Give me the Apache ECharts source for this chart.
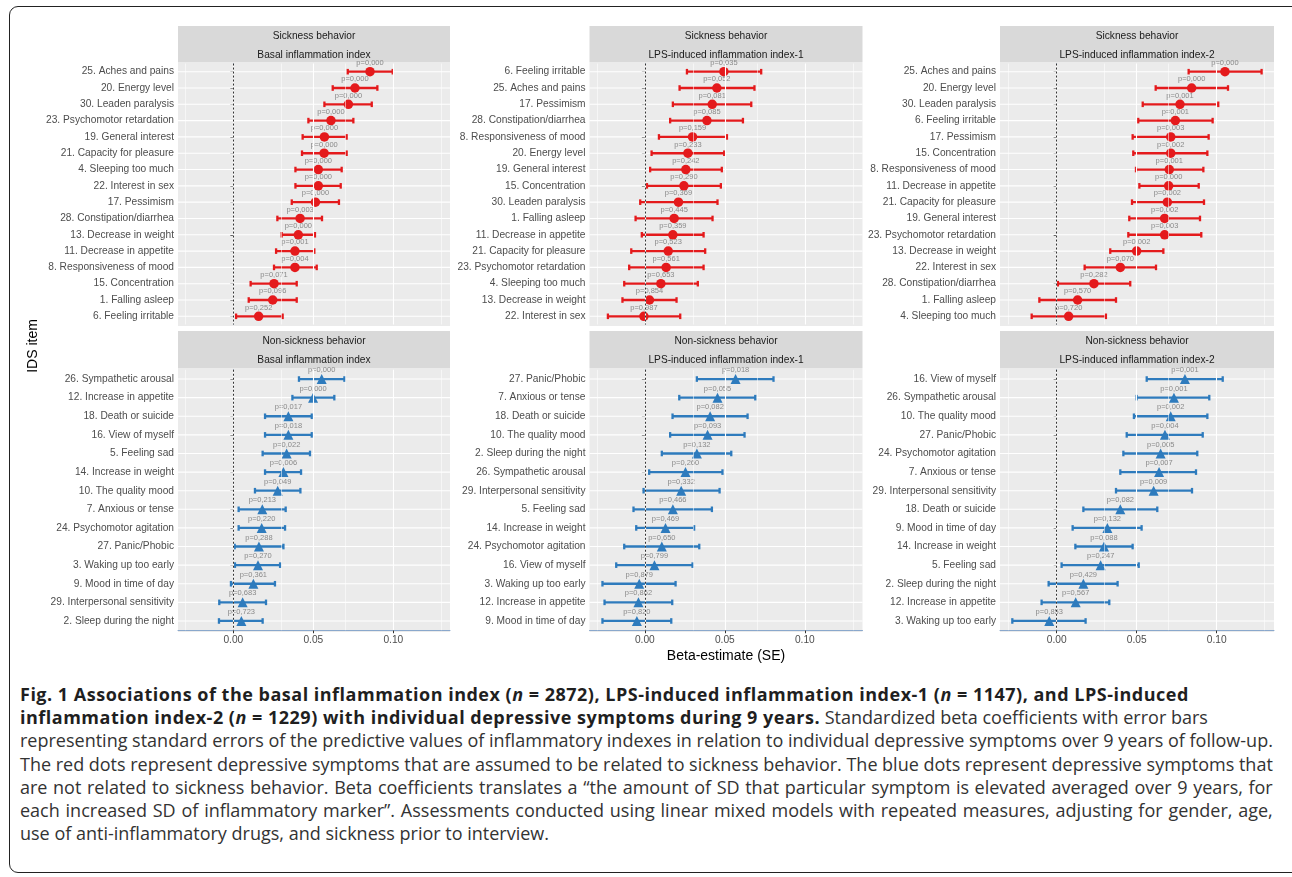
<!DOCTYPE html>
<html><head><meta charset="utf-8">
<script src="https://cdn.jsdelivr.net/npm/echarts@6/dist/echarts.min.js"></script>
<style>
html,body{margin:0;padding:0;background:#fff;width:1292px;height:877px;overflow:hidden;}
#frame{position:absolute;left:9px;top:6px;width:1300px;height:867px;border:1.5px solid #222;border-radius:9px;box-sizing:border-box;}
#chart{position:absolute;left:0;top:0;width:1292px;height:672px;}
#cap{position:absolute;left:20px;top:683px;width:1253px;font-family:"Open Sans",Lato,sans-serif;font-size:18px;line-height:23.2px;color:#333;}
#cap div{white-space:nowrap;}
#cap div.j{display:flex;justify-content:space-between;}
#cap b{font-weight:700;color:#1f1f1f;letter-spacing:0.5px;}
</style></head>
<body>
<div id="frame"></div>
<div id="chart"></div>
<div id="cap">
<div><b>Fig. 1 Associations of the basal inflammation index (<i>n</i> = 2872), LPS-induced inflammation index-1 (<i>n</i> = 1147), and LPS-induced</b></div>
<div><b>inflammation index-2 (<i>n</i> = 1229) with individual depressive symptoms during 9 years.</b> Standardized beta coefficients with error bars</div>
<div class="j">representing standard errors of the predictive values of inflammatory indexes in relation to individual depressive symptoms over 9 years of follow-up.</div>
<div class="j">The red dots represent depressive symptoms that are assumed to be related to sickness behavior. The blue dots represent depressive symptoms that</div>
<div class="j">are not related to sickness behavior. Beta coefficients translates a “the amount of SD that particular symptom is elevated averaged over 9 years, for</div>
<div class="j">each increased SD of inflammatory marker”. Assessments conducted using linear mixed models with repeated measures, adjusting for gender, age,</div>
<div>use of anti-inflammatory drugs, and sickness prior to interview.</div>
</div>
<script>
// justified caption lines: one span per word so each line fills the width
document.querySelectorAll('#cap div.j').forEach(d => {
  const words = d.textContent.trim().split(/\s+/);
  d.textContent = '';
  words.forEach(w => { const s = document.createElement('span'); s.textContent = w; d.appendChild(s); });
});

// ---------- data ----------
const stripGroup = ["Sickness behavior", "Non-sickness behavior"];
const stripIndex = ["Basal inflammation index", "LPS-induced inflammation index-1", "LPS-induced inflammation index-2"];
const xTickValues = [0, 0.05, 0.10];
const xMinorValues = [-0.025, 0.025, 0.075, 0.125];

// Sickness behavior - Basal
const itemsA = ["25. Aches and pains","20. Energy level","30. Leaden paralysis","23. Psychomotor retardation","19. General interest","21. Capacity for pleasure","4. Sleeping too much","22. Interest in sex","17. Pessimism","28. Constipation/diarrhea","13. Decrease in weight","11. Decrease in appetite","8. Responsiveness of mood","15. Concentration","1. Falling asleep","6. Feeling irritable"];
const betaA = [0.0854,0.0760,0.0719,0.0610,0.0569,0.0567,0.0531,0.0531,0.0513,0.0417,0.0406,0.0385,0.0385,0.0254,0.0246,0.0158];
const loA = [0.0715,0.0621,0.0569,0.0469,0.0433,0.0429,0.0388,0.0388,0.0365,0.0275,0.0302,0.0267,0.0254,0.0108,0.0096,0.0017];
const hiA = [0.0996,0.0900,0.0865,0.0750,0.0708,0.0708,0.0677,0.0671,0.0660,0.0554,0.0510,0.0506,0.0521,0.0396,0.0396,0.0308];
const pA = ["0,000","0,000","0,000","0,000","0,000","0,000","0,000","0,000","0,000","0,003","0,000","0,001","0,004","0,071","0,096","0,252"];

// Sickness behavior - LPS-1
const itemsB = ["6. Feeling irritable","25. Aches and pains","17. Pessimism","28. Constipation/diarrhea","8. Responsiveness of mood","20. Energy level","19. General interest","15. Concentration","30. Leaden paralysis","1. Falling asleep","11. Decrease in appetite","21. Capacity for pleasure","23. Psychomotor retardation","4. Sleeping too much","13. Decrease in weight","22. Interest in sex"];
const betaB = [0.0494,0.0450,0.0421,0.0388,0.0298,0.0269,0.0256,0.0244,0.0210,0.0183,0.0175,0.0146,0.0133,0.0100,0.0029,-0.0006];
const loB = [0.0263,0.0217,0.0175,0.0158,0.0088,0.0042,0.0033,0.0013,-0.0029,-0.0058,-0.0019,-0.0085,-0.0098,-0.0129,-0.0140,-0.0231];
const hiB = [0.0727,0.0685,0.0665,0.0613,0.0513,0.0496,0.0481,0.0475,0.0454,0.0423,0.0367,0.0377,0.0367,0.0331,0.0198,0.0221];
const pB = ["0,035","0,052","0,081","0,085","0,159","0,233","0,242","0,290","0,369","0,445","0,359","0,523","0,561","0,653","0,854","0,987"];

// Sickness behavior - LPS-2
const itemsC = ["25. Aches and pains","20. Energy level","30. Leaden paralysis","6. Feeling irritable","17. Pessimism","15. Concentration","8. Responsiveness of mood","11. Decrease in appetite","21. Capacity for pleasure","19. General interest","23. Psychomotor retardation","13. Decrease in weight","22. Interest in sex","28. Constipation/diarrhea","1. Falling asleep","4. Sleeping too much"];
const betaC = [0.1052,0.0844,0.0771,0.0742,0.0713,0.0713,0.0704,0.0700,0.0692,0.0675,0.0675,0.0500,0.0398,0.0233,0.0131,0.0075];
const loC = [0.0825,0.0619,0.0538,0.0510,0.0475,0.0479,0.0496,0.0517,0.0471,0.0454,0.0448,0.0335,0.0175,0.0008,-0.0108,-0.0156];
const hiC = [0.1281,0.1071,0.1010,0.0975,0.0950,0.0942,0.0917,0.0888,0.0921,0.0896,0.0904,0.0667,0.0621,0.0460,0.0371,0.0308];
const pC = ["0,000","0,000","0,001","0,001","0,003","0,002","0,001","0,000","0,002","0,002","0,003","0,002","0,070","0,282","0,570","0,720"];

// Non-sickness behavior - Basal
const itemsD = ["26. Sympathetic arousal","12. Increase in appetite","18. Death or suicide","16. View of myself","5. Feeling sad","14. Increase in weight","10. The quality mood","7. Anxious or tense","24. Psychomotor agitation","27. Panic/Phobic","3. Waking up too early","9. Mood in time of day","29. Interpersonal sensitivity","2. Sleep during the night"];
const betaD = [0.0552,0.0498,0.0344,0.0344,0.0333,0.0313,0.0277,0.0181,0.0177,0.0160,0.0154,0.0125,0.0058,0.0050];
const loD = [0.0410,0.0369,0.0198,0.0198,0.0183,0.0198,0.0135,0.0033,0.0033,0.0008,0.0010,-0.0015,-0.0088,-0.0090];
const hiD = [0.0694,0.0631,0.0490,0.0490,0.0479,0.0423,0.0419,0.0327,0.0323,0.0313,0.0292,0.0260,0.0204,0.0183];
const pD = ["0,000","0,000","0,017","0,018","0,022","0,006","0,049","0,213","0,220","0,288","0,270","0,361","0,683","0,723"];

// Non-sickness behavior - LPS-1
const itemsE = ["27. Panic/Phobic","7. Anxious or tense","18. Death or suicide","10. The quality mood","2. Sleep during the night","26. Sympathetic arousal","29. Interpersonal sensitivity","5. Feeling sad","14. Increase in weight","24. Psychomotor agitation","16. View of myself","3. Waking up too early","12. Increase in appetite","9. Mood in time of day"];
const betaE = [0.0567,0.0454,0.0408,0.0392,0.0325,0.0254,0.0227,0.0175,0.0129,0.0106,0.0060,-0.0035,-0.0040,-0.0050];
const loE = [0.0325,0.0215,0.0173,0.0158,0.0106,0.0027,-0.0008,-0.0071,-0.0054,-0.0129,-0.0179,-0.0265,-0.0252,-0.0265];
const hiE = [0.0804,0.0690,0.0642,0.0623,0.0540,0.0485,0.0467,0.0419,0.0308,0.0340,0.0298,0.0192,0.0171,0.0165];
const pE = ["0,018","0,055","0,082","0,093","0,132","0,260","0,332","0,466","0,469","0,650","0,799","0,879","0,862","0,820"];

// Non-sickness behavior - LPS-2
const itemsF = ["16. View of myself","26. Sympathetic arousal","10. The quality mood","27. Panic/Phobic","24. Psychomotor agitation","7. Anxious or tense","29. Interpersonal sensitivity","18. Death or suicide","9. Mood in time of day","14. Increase in weight","5. Feeling sad","2. Sleep during the night","12. Increase in appetite","3. Waking up too early"];
const betaF = [0.0802,0.0733,0.0713,0.0677,0.0650,0.0640,0.0606,0.0398,0.0317,0.0296,0.0275,0.0167,0.0119,-0.0046];
const loF = [0.0563,0.0500,0.0483,0.0438,0.0417,0.0398,0.0371,0.0167,0.0100,0.0117,0.0031,-0.0050,-0.0094,-0.0277];
const hiF = [0.1038,0.0954,0.0942,0.0913,0.0879,0.0871,0.0846,0.0629,0.0531,0.0475,0.0513,0.0381,0.0329,0.0181];
const pF = ["0,001","0,001","0,002","0,004","0,005","0,007","0,009","0,082","0,132","0,088","0,247","0,429","0,567","0,853"];

// ---------- layout & style ----------
const FONT = '"Liberation Sans", Arial, sans-serif';
const RED = '#E41A1C', BLUE = '#2E7BBD', AXIS_BLUE = '#8AA8CC';
const colLeft = [178, 589.5, 1000], colWidth = [272, 273, 274];
const colXMin = [-0.0346, -0.0346, -0.0354];
const PX_PER_UNIT = 1600;
const rowTop = [62, 368], rowHeight = [264, 264];
const stripTop = [26, 331], stripH = [36, 37];

const panels = [
  {items: itemsA, beta: betaA, lo: loA, hi: hiA, p: pA, row: 0, col: 0},
  {items: itemsB, beta: betaB, lo: loB, hi: hiB, p: pB, row: 0, col: 1},
  {items: itemsC, beta: betaC, lo: loC, hi: hiC, p: pC, row: 0, col: 2},
  {items: itemsD, beta: betaD, lo: loD, hi: hiD, p: pD, row: 1, col: 0},
  {items: itemsE, beta: betaE, lo: loE, hi: hiE, p: pE, row: 1, col: 1},
  {items: itemsF, beta: betaF, lo: loF, hi: hiF, p: pF, row: 1, col: 2}
];

const grids = [], xAxes = [], yAxes = [], series = [], graphics = [];

panels.forEach((pn, i) => {
  const n = pn.items.length;
  const H = rowHeight[pn.row];
  const inset = 0.1 * H / (n + 1.2);
  const color = pn.row === 0 ? RED : BLUE;
  const L = colLeft[pn.col], W = colWidth[pn.col];
  const xmin = colXMin[pn.col], xmax = xmin + W / PX_PER_UNIT;

  // panel background + strip
  graphics.push({type: 'rect', z: -10, silent: true, shape: {x: L, y: rowTop[pn.row], width: W, height: H}, style: {fill: '#EBEBEB'}});
  graphics.push({type: 'rect', z: -10, silent: true, shape: {x: L, y: stripTop[pn.row], width: W, height: stripH[pn.row]}, style: {fill: '#D9D9D9'}});
  graphics.push({type: 'text', silent: true, x: L + W / 2, y: stripTop[pn.row] + 10.5, style: {text: stripGroup[pn.row], fill: '#1A1A1A', font: '10.2px ' + FONT, align: 'center', verticalAlign: 'middle'}});
  graphics.push({type: 'text', silent: true, x: L + W / 2, y: stripTop[pn.row] + 29, style: {text: stripIndex[pn.col], fill: '#1A1A1A', font: '10.2px ' + FONT, align: 'center', verticalAlign: 'middle'}});

  grids.push({left: L, width: W, top: rowTop[pn.row] + inset, height: H - 2 * inset, containLabel: false});

  const bottom = pn.row === 1;
  xAxes.push({
    gridIndex: i, type: 'value', min: xmin, max: xmax,
    splitLine: {show: false},
    axisLine: {show: bottom, onZero: false, lineStyle: {color: AXIS_BLUE, width: 1}},
    axisTick: {show: bottom, customValues: xTickValues, length: 3, lineStyle: {color: '#333'}},
    axisLabel: {show: bottom, customValues: xTickValues, formatter: v => v.toFixed(2), color: '#4D4D4D', fontSize: 10.2, fontFamily: FONT, margin: 5}
  });
  yAxes.push({
    gridIndex: i, type: 'category', inverse: true, data: pn.items,
    axisLine: {show: true, lineStyle: {color: AXIS_BLUE, width: 1}},
    axisTick: {show: true, alignWithLabel: true, interval: 0, length: 3, lineStyle: {color: '#333'}},
    axisLabel: {interval: 0, color: '#4D4D4D', fontSize: 10.2, fontFamily: FONT, margin: 4},
    splitLine: {show: false}
  });

  // gridlines (horizontal at each category, vertical major/minor + dashed zero)
  series.push({
    type: 'custom', xAxisIndex: i, yAxisIndex: i, z: 1, silent: true, animation: false,
    data: pn.items.map((_, k) => [0, k]),
    encode: {x: 0, y: 1},
    renderItem: (params, api) => {
      const y = api.coord([0, api.value(1)])[1];
      const cs = params.coordSys;
      return {type: 'line', shape: {x1: cs.x, y1: y, x2: cs.x + cs.width, y2: y}, style: {stroke: '#FFFFFF', lineWidth: 1.1}};
    },
    markLine: {
      silent: true, symbol: ['none', 'none'], label: {show: false}, animation: false,
      data: [
        ...xMinorValues.map(v => ({xAxis: v, lineStyle: {color: '#FFFFFF', width: 0.55, type: 'solid'}})),
        ...xTickValues.map(v => ({xAxis: v, lineStyle: {color: '#FFFFFF', width: 1.1, type: 'solid'}})),
        {xAxis: 0, lineStyle: {color: '#333333', width: 1, type: [2, 2]}}
      ]
    }
  });

  // error bars
  series.push({
    type: 'custom', xAxisIndex: i, yAxisIndex: i, z: 3, silent: true, animation: false,
    data: pn.items.map((_, k) => [pn.lo[k], pn.hi[k], k]),
    encode: {x: [0, 1], y: 2},
    renderItem: (params, api) => {
      const y = api.coord([0, api.value(2)])[1];
      const x1 = api.coord([api.value(0), api.value(2)])[0];
      const x2 = api.coord([api.value(1), api.value(2)])[0];
      const h = 2.8;
      const st = {stroke: color, lineWidth: 2.3};
      return {type: 'group', children: [
        {type: 'line', shape: {x1: x1, y1: y, x2: x2, y2: y}, style: st},
        {type: 'line', shape: {x1: x1, y1: y - h, x2: x1, y2: y + h}, style: st},
        {type: 'line', shape: {x1: x2, y1: y - h, x2: x2, y2: y + h}, style: st}
      ]};
    }
  });

  // points with p-value labels
  series.push({
    type: 'scatter', xAxisIndex: i, yAxisIndex: i, z: 4, silent: true, animation: false,
    symbol: pn.row === 0 ? 'circle' : 'triangle',
    symbolSize: pn.row === 0 ? 9.5 : 10,
    itemStyle: {color: color, opacity: 1},
    data: pn.items.map((_, k) => [pn.beta[k], k, 'p=' + pn.p[k]]),
    label: {show: true, position: 'top', distance: 0, formatter: q => q.value[2], color: '#8A8A8A', fontSize: 7.5, fontFamily: FONT}
  });
});

graphics.push({type: 'text', silent: true, x: 726, y: 656, style: {text: 'Beta-estimate (SE)', fill: '#000', font: '14px ' + FONT, align: 'center', verticalAlign: 'middle'}});
graphics.push({type: 'text', silent: true, x: 33, y: 346, rotation: Math.PI / 2, style: {text: 'IDS item', fill: '#000', font: '14px ' + FONT, align: 'center', verticalAlign: 'middle'}});

const chart = echarts.init(document.getElementById('chart'), null, {renderer: 'canvas'});
chart.setOption({
  animation: false,
  backgroundColor: 'transparent',
  grid: grids, xAxis: xAxes, yAxis: yAxes, series: series,
  graphic: graphics
});
</script>
</body></html>
